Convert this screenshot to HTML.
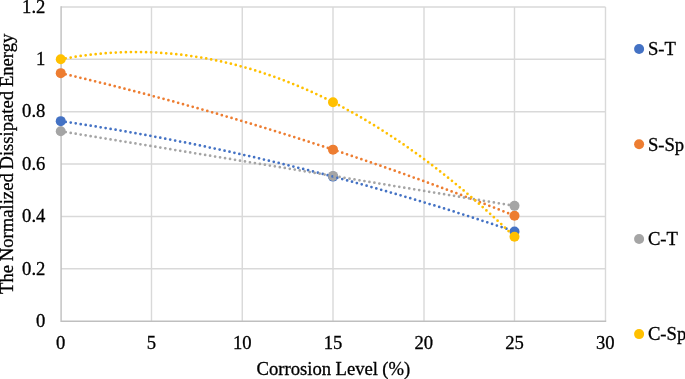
<!DOCTYPE html>
<html><head><meta charset="utf-8"><title>Chart</title>
<style>
html,body{margin:0;padding:0;background:#fff;}
svg{display:block;}
text{font-family:"Liberation Serif","Times New Roman",serif;font-size:18.67px;fill:#000;stroke:#000;stroke-width:0.3px;}
</style></head><body>
<svg width="685" height="379" viewBox="0 0 685 379">
<rect width="685" height="379" fill="#fff"/>

<line x1="61.1" y1="268.82" x2="605.5" y2="268.82" stroke="#D9D9D9" stroke-width="1.55"/>
<line x1="61.1" y1="216.43" x2="605.5" y2="216.43" stroke="#D9D9D9" stroke-width="1.55"/>
<line x1="61.1" y1="164.05" x2="605.5" y2="164.05" stroke="#D9D9D9" stroke-width="1.55"/>
<line x1="61.1" y1="111.67" x2="605.5" y2="111.67" stroke="#D9D9D9" stroke-width="1.55"/>
<line x1="61.1" y1="59.28" x2="605.5" y2="59.28" stroke="#D9D9D9" stroke-width="1.55"/>
<line x1="61.1" y1="6.90" x2="605.5" y2="6.90" stroke="#D9D9D9" stroke-width="1.55"/>
<line x1="151.50" y1="6.9" x2="151.50" y2="321.2" stroke="#D9D9D9" stroke-width="1.4"/>
<line x1="242.25" y1="6.9" x2="242.25" y2="321.2" stroke="#D9D9D9" stroke-width="1.4"/>
<line x1="333.00" y1="6.9" x2="333.00" y2="321.2" stroke="#D9D9D9" stroke-width="1.4"/>
<line x1="424.00" y1="6.9" x2="424.00" y2="321.2" stroke="#D9D9D9" stroke-width="1.4"/>
<line x1="514.50" y1="6.9" x2="514.50" y2="321.2" stroke="#D9D9D9" stroke-width="1.4"/>
<line x1="605.50" y1="6.9" x2="605.50" y2="321.2" stroke="#D9D9D9" stroke-width="1.4"/>
<line x1="61.1" y1="321.2" x2="606.2" y2="321.2" stroke="#BFBFBF" stroke-width="1.4"/>
<line x1="61.1" y1="6.2" x2="61.1" y2="321.9" stroke="#BFBFBF" stroke-width="1.4"/>
<circle cx="60.75" cy="121.15" r="5" fill="#4472C4"/>
<circle cx="333.00" cy="176.62" r="5" fill="#4472C4"/>
<circle cx="514.50" cy="231.47" r="5" fill="#4472C4"/>
<circle cx="60.75" cy="73.16" r="5" fill="#ED7D31"/>
<circle cx="333.00" cy="149.64" r="5" fill="#ED7D31"/>
<circle cx="514.50" cy="215.67" r="5" fill="#ED7D31"/>
<circle cx="60.75" cy="131.26" r="5" fill="#A5A5A5"/>
<circle cx="333.00" cy="175.91" r="5" fill="#A5A5A5"/>
<circle cx="514.50" cy="205.85" r="5" fill="#A5A5A5"/>
<circle cx="60.75" cy="59.28" r="5" fill="#FFC000"/>
<circle cx="333.00" cy="102.19" r="5" fill="#FFC000"/>
<circle cx="514.50" cy="236.78" r="5" fill="#FFC000"/>
<path d="M60.75,121.15 L65.29,121.81 L69.83,122.48 L74.36,123.16 L78.90,123.85 L83.44,124.54 L87.97,125.25 L92.51,125.96 L97.05,126.69 L101.59,127.42 L106.12,128.16 L110.66,128.91 L115.20,129.67 L119.74,130.44 L124.27,131.22 L128.81,132.00 L133.35,132.80 L137.89,133.60 L142.43,134.41 L146.96,135.24 L151.50,136.07 L156.04,136.91 L160.57,137.76 L165.11,138.61 L169.65,139.48 L174.19,140.35 L178.72,141.24 L183.26,142.13 L187.80,143.03 L192.34,143.95 L196.88,144.87 L201.41,145.79 L205.95,146.73 L210.49,147.68 L215.02,148.64 L219.56,149.60 L224.10,150.57 L228.64,151.56 L233.17,152.55 L237.71,153.55 L242.25,154.56 L246.79,155.58 L251.32,156.60 L255.86,157.64 L260.40,158.69 L264.94,159.74 L269.48,160.80 L274.01,161.87 L278.55,162.95 L283.09,164.04 L287.62,165.14 L292.16,166.25 L296.70,167.37 L301.24,168.49 L305.77,169.63 L310.31,170.77 L314.85,171.92 L319.39,173.08 L323.92,174.25 L328.46,175.43 L333.00,176.62 L337.54,177.82 L342.07,179.02 L346.61,180.24 L351.15,181.46 L355.69,182.70 L360.22,183.94 L364.76,185.19 L369.30,186.45 L373.84,187.72 L378.38,188.99 L382.91,190.28 L387.45,191.58 L391.99,192.88 L396.52,194.19 L401.06,195.51 L405.60,196.85 L410.14,198.19 L414.67,199.53 L419.21,200.89 L423.75,202.26 L428.29,203.63 L432.82,205.02 L437.36,206.41 L441.90,207.81 L446.44,209.23 L450.97,210.65 L455.51,212.08 L460.05,213.51 L464.59,214.96 L469.12,216.42 L473.66,217.88 L478.20,219.36 L482.74,220.84 L487.27,222.33 L491.81,223.83 L496.35,225.34 L500.89,226.86 L505.42,228.39 L509.96,229.92 L514.50,231.47" fill="none" stroke="#4472C4" stroke-width="2.75" stroke-linecap="round" stroke-dasharray="0 5.045"/>
<path d="M60.75,73.16 L65.29,74.22 L69.83,75.28 L74.36,76.35 L78.90,77.42 L83.44,78.50 L87.97,79.59 L92.51,80.69 L97.05,81.80 L101.59,82.91 L106.12,84.03 L110.66,85.16 L115.20,86.29 L119.74,87.44 L124.27,88.59 L128.81,89.75 L133.35,90.91 L137.89,92.09 L142.43,93.27 L146.96,94.45 L151.50,95.65 L156.04,96.85 L160.57,98.06 L165.11,99.28 L169.65,100.51 L174.19,101.74 L178.72,102.98 L183.26,104.23 L187.80,105.49 L192.34,106.75 L196.88,108.02 L201.41,109.30 L205.95,110.58 L210.49,111.88 L215.02,113.18 L219.56,114.49 L224.10,115.80 L228.64,117.13 L233.17,118.46 L237.71,119.80 L242.25,121.14 L246.79,122.50 L251.32,123.86 L255.86,125.23 L260.40,126.60 L264.94,127.99 L269.48,129.38 L274.01,130.78 L278.55,132.18 L283.09,133.60 L287.62,135.02 L292.16,136.45 L296.70,137.88 L301.24,139.33 L305.77,140.78 L310.31,142.24 L314.85,143.70 L319.39,145.18 L323.92,146.66 L328.46,148.15 L333.00,149.64 L337.54,151.15 L342.07,152.66 L346.61,154.18 L351.15,155.71 L355.69,157.24 L360.22,158.78 L364.76,160.33 L369.30,161.89 L373.84,163.45 L378.38,165.02 L382.91,166.60 L387.45,168.19 L391.99,169.78 L396.52,171.39 L401.06,173.00 L405.60,174.61 L410.14,176.24 L414.67,177.87 L419.21,179.51 L423.75,181.15 L428.29,182.81 L432.82,184.47 L437.36,186.14 L441.90,187.82 L446.44,189.50 L450.97,191.19 L455.51,192.89 L460.05,194.60 L464.59,196.32 L469.12,198.04 L473.66,199.77 L478.20,201.51 L482.74,203.25 L487.27,205.00 L491.81,206.76 L496.35,208.53 L500.89,210.30 L505.42,212.09 L509.96,213.88 L514.50,215.67" fill="none" stroke="#ED7D31" stroke-width="2.75" stroke-linecap="round" stroke-dasharray="0 5.045"/>
<path d="M60.75,131.26 L65.29,132.00 L69.83,132.74 L74.36,133.48 L78.90,134.23 L83.44,134.97 L87.97,135.71 L92.51,136.45 L97.05,137.20 L101.59,137.94 L106.12,138.68 L110.66,139.42 L115.20,140.17 L119.74,140.91 L124.27,141.65 L128.81,142.39 L133.35,143.14 L137.89,143.88 L142.43,144.62 L146.96,145.37 L151.50,146.11 L156.04,146.85 L160.57,147.60 L165.11,148.34 L169.65,149.08 L174.19,149.83 L178.72,150.57 L183.26,151.32 L187.80,152.06 L192.34,152.80 L196.88,153.55 L201.41,154.29 L205.95,155.04 L210.49,155.78 L215.02,156.53 L219.56,157.27 L224.10,158.02 L228.64,158.76 L233.17,159.51 L237.71,160.25 L242.25,161.00 L246.79,161.74 L251.32,162.49 L255.86,163.23 L260.40,163.98 L264.94,164.72 L269.48,165.47 L274.01,166.21 L278.55,166.96 L283.09,167.71 L287.62,168.45 L292.16,169.20 L296.70,169.94 L301.24,170.69 L305.77,171.44 L310.31,172.18 L314.85,172.93 L319.39,173.67 L323.92,174.42 L328.46,175.17 L333.00,175.91 L337.54,176.66 L342.07,177.41 L346.61,178.16 L351.15,178.90 L355.69,179.65 L360.22,180.40 L364.76,181.14 L369.30,181.89 L373.84,182.64 L378.38,183.39 L382.91,184.13 L387.45,184.88 L391.99,185.63 L396.52,186.38 L401.06,187.13 L405.60,187.87 L410.14,188.62 L414.67,189.37 L419.21,190.12 L423.75,190.87 L428.29,191.62 L432.82,192.36 L437.36,193.11 L441.90,193.86 L446.44,194.61 L450.97,195.36 L455.51,196.11 L460.05,196.86 L464.59,197.61 L469.12,198.36 L473.66,199.10 L478.20,199.85 L482.74,200.60 L487.27,201.35 L491.81,202.10 L496.35,202.85 L500.89,203.60 L505.42,204.35 L509.96,205.10 L514.50,205.85" fill="none" stroke="#A5A5A5" stroke-width="2.75" stroke-linecap="round" stroke-dasharray="0 5.045"/>
<path d="M60.75,59.28 L65.29,58.43 L69.83,57.64 L74.36,56.90 L78.90,56.21 L83.44,55.57 L87.97,54.99 L92.51,54.46 L97.05,53.98 L101.59,53.56 L106.12,53.18 L110.66,52.87 L115.20,52.60 L119.74,52.39 L124.27,52.23 L128.81,52.12 L133.35,52.07 L137.89,52.07 L142.43,52.12 L146.96,52.23 L151.50,52.38 L156.04,52.60 L160.57,52.86 L165.11,53.18 L169.65,53.55 L174.19,53.97 L178.72,54.45 L183.26,54.98 L187.80,55.56 L192.34,56.20 L196.88,56.88 L201.41,57.63 L205.95,58.42 L210.49,59.27 L215.02,60.17 L219.56,61.12 L224.10,62.13 L228.64,63.19 L233.17,64.30 L237.71,65.47 L242.25,66.69 L246.79,67.96 L251.32,69.28 L255.86,70.66 L260.40,72.09 L264.94,73.57 L269.48,75.11 L274.01,76.70 L278.55,78.34 L283.09,80.04 L287.62,81.79 L292.16,83.59 L296.70,85.44 L301.24,87.35 L305.77,89.31 L310.31,91.32 L314.85,93.39 L319.39,95.51 L323.92,97.68 L328.46,99.91 L333.00,102.19 L337.54,104.52 L342.07,106.90 L346.61,109.34 L351.15,111.83 L355.69,114.37 L360.22,116.97 L364.76,119.62 L369.30,122.32 L373.84,125.08 L378.38,127.89 L382.91,130.75 L387.45,133.66 L391.99,136.63 L396.52,139.65 L401.06,142.72 L405.60,145.85 L410.14,149.03 L414.67,152.26 L419.21,155.55 L423.75,158.89 L428.29,162.28 L432.82,165.72 L437.36,169.22 L441.90,172.77 L446.44,176.37 L450.97,180.03 L455.51,183.74 L460.05,187.50 L464.59,191.32 L469.12,195.18 L473.66,199.11 L478.20,203.08 L482.74,207.11 L487.27,211.19 L491.81,215.32 L496.35,219.51 L500.89,223.75 L505.42,228.04 L509.96,232.39 L514.50,236.78" fill="none" stroke="#FFC000" stroke-width="2.75" stroke-linecap="round" stroke-dasharray="0 5.045"/>
<text x="45.4" y="327.00" text-anchor="end">0</text>
<text x="45.4" y="274.62" text-anchor="end">0.2</text>
<text x="45.4" y="222.23" text-anchor="end">0.4</text>
<text x="45.4" y="169.85" text-anchor="end">0.6</text>
<text x="45.4" y="117.47" text-anchor="end">0.8</text>
<text x="45.4" y="65.08" text-anchor="end">1</text>
<text x="45.4" y="12.70" text-anchor="end">1.2</text>
<text x="60.75" y="349.2" text-anchor="middle">0</text>
<text x="151.50" y="349.2" text-anchor="middle">5</text>
<text x="242.25" y="349.2" text-anchor="middle">10</text>
<text x="333.00" y="349.2" text-anchor="middle">15</text>
<text x="423.75" y="349.2" text-anchor="middle">20</text>
<text x="514.50" y="349.2" text-anchor="middle">25</text>
<text x="605.25" y="349.2" text-anchor="middle">30</text>
<text x="333.4" y="375" text-anchor="middle" word-spacing="-0.3">Corrosion Level (%)</text>
<text transform="translate(12.7,163.8) rotate(-90)" text-anchor="middle" letter-spacing="-0.01" word-spacing="-0.9">The Normalized Dissipated Energy</text>
<circle cx="639.1" cy="49" r="5" fill="#4472C4"/>
<text x="647.9" y="55.1">S-T</text>
<circle cx="639.1" cy="144.2" r="5" fill="#ED7D31"/>
<text x="647.9" y="150.5">S-Sp</text>
<circle cx="639.1" cy="239" r="5" fill="#A5A5A5"/>
<text x="647.9" y="245.2">C-T</text>
<circle cx="639.1" cy="334.1" r="5" fill="#FFC000"/>
<text x="647.9" y="340.1">C-Sp</text>
</svg></body></html>
